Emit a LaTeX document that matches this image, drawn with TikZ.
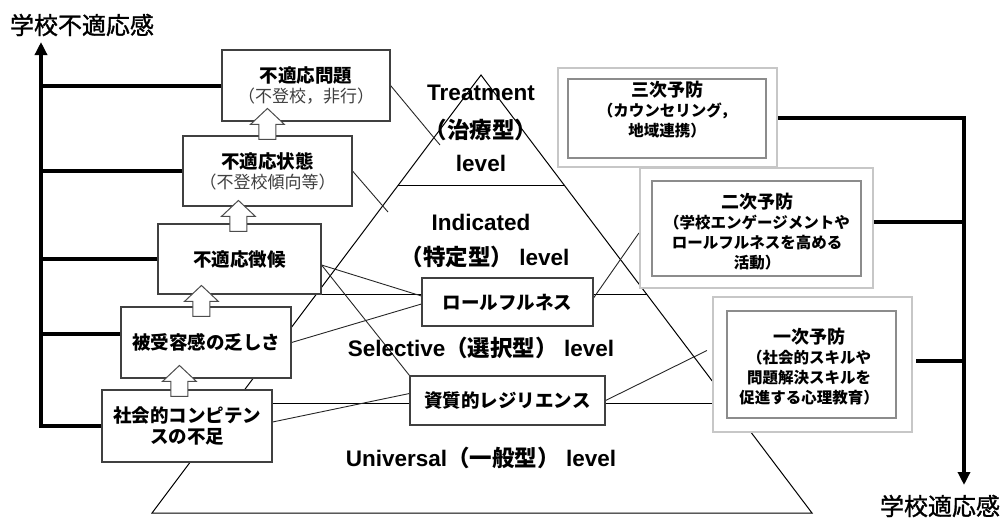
\documentclass[tikz,border=0pt]{standalone}
\usepackage{fontspec}
\setmainfont{Liberation Sans}
\newfontfamily\jp{Noto Sans CJK JP}
\newfontfamily\jpmed[FakeBold=1.2]{Noto Sans CJK JP}
\usetikzlibrary{calc,arrows.meta}
\pgfdeclarelayer{bg}
\pgfsetlayers{bg,main}
\begin{document}
\begin{tikzpicture}[x=1pt,y=-1pt,
  lbox/.style={draw=black!75, line width=1.1pt, fill=white, align=center, inner sep=0pt,
    font=\jp\bfseries\fontsize{18.5}{21}\selectfont},
  rbox/.style={draw=black!22, line width=2.2pt, fill=white, inner sep=0pt},
  rinner/.style={draw=black!45, line width=1.4pt},
  rtext/.style={align=center, inner sep=0pt, font=\jp\bfseries\fontsize{15.5}{20}\selectfont},
  conn/.style={line width=0.9pt, black!85},
  axis/.style={line width=4pt, line join=miter},
  lvl/.style={inner sep=0pt, font=\bfseries\fontsize{22.5}{26}\selectfont},
  axlabel/.style={inner sep=0pt, font=\jpmed\fontsize{24}{24}\selectfont},
  uparr/.pic={\draw[black!70, line width=1pt, fill=white]
     (-8.5,0) -- (-8.5,-15) -- (-17,-15) -- (0,-31) -- (17,-15) -- (8.5,-15) -- (8.5,0) -- cycle;}
]
\useasboundingbox (0,0) rectangle (1002,522);

% ---------- left boxes ----------
\node[lbox, minimum width=168, minimum height=71] (prob) at (306,85.5)
  {不適応問題\\[-1pt]{\mdseries\color{black!75}\fontsize{17}{20}\selectfont（不登校，非行）}};
\node[lbox, minimum width=169, minimum height=70] (state) at (267.5,171)
  {不適応状態\\[-1pt]{\mdseries\color{black!75}\fontsize{17}{20}\selectfont（不登校傾向等）}};
\node[lbox, minimum width=163, minimum height=70] (sign) at (239.5,259) {不適応徴候};
\node[lbox, minimum width=170, minimum height=71] (accept) at (206,342.5) {被受容感の乏しさ};
\node[lbox, minimum width=170, minimum height=72] (comp) at (187,426) {社会的コンピテン\\スの不足};

% ---------- pyramid boxes ----------
\node[lbox, minimum width=171, minimum height=48] (role) at (507.5,302) {ロールフルネス};
\node[lbox, minimum width=195, minimum height=49] (resil) at (507.5,400.5) {資質的レジリエンス};

% ---------- right boxes ----------
\node[rbox, minimum width=219, minimum height=99] (tert) at (667.5,117.5) {};
\draw[rinner] ($(tert.north west)+(11,12)$) rectangle ($(tert.south east)+(-12,-10)$);
\node[rtext] (tertT) at (667,110)
  {{\fontsize{18}{20}\selectfont 三次予防}\\（カウンセリング，\\地域連携）};

\node[rbox, minimum width=233, minimum height=120] (sec) at (756.5,228) {};
\draw[rinner] ($(sec.north west)+(13,14)$) rectangle ($(sec.south east)+(-13,-13)$);
\node[rtext] (secT) at (757,232)
  {{\fontsize{18}{20}\selectfont 二次予防}\\（学校エンゲージメントや\\ロールフルネスを高める\\活動）};

\node[rbox, minimum width=199, minimum height=135] (pri) at (812.5,364.5) {};
\draw[rinner] ($(pri.north west)+(15,15)$) rectangle ($(pri.south east)+(-17,-15)$);
\node[rtext] (priT) at (809,367)
  {{\fontsize{18}{20}\selectfont 一次予防}\\（社会的スキルや\\問題解決スキルを\\促進する心理教育）};

% ---------- level texts ----------
\node[lvl] (treat) at (481,93) {Treatment};
\node[lvl] (treat2) at (481,130) {\jp（治療型）};
\node[lvl] (treat3) at (481,163) {level};
\node[lvl] (ind) at (481,222) {Indicated};
\node[lvl] (ind2) at (485,257) {{\jp（特定型）} level};
\node[lvl] (sel) at (481,348) {Selective{\jp（選択型）} level};
\node[lvl] (uni) at (481,458) {Universal{\jp（一般型）} level};

% ---------- axis labels ----------
\node[axlabel] (lblL) at (82,25) {学校不適応感};
\node[axlabel] (lblR) at (940,506) {学校適応感};

% ---------- block arrows ----------
\pic at ($(comp.north west)+(78,7)$) {uparr};
\pic at ($(accept.north west)+(81,10)$) {uparr};
\pic at ($(sign.north west)+(81,8)$) {uparr};
\pic at ($(state.north west)+(85,4)$) {uparr};

% ---------- axes ----------
\coordinate (axLtop) at (41,42);
\coordinate (axRbot) at (964,485);
\coordinate (acc) at ($(accept.west)+(0,-9)$);
\coordinate (secR) at ($(sec.east)+(0,-6)$);
\coordinate (priR) at ($(pri.east)+(3,-4)$);
\draw[axis, -{Triangle[length=13pt,width=12pt]}] (comp.west) -| (axLtop);
\draw[axis] (prob.west) -- (prob.west -| axLtop);
\draw[axis] (state.west) -- (state.west -| axLtop);
\draw[axis] (sign.west) -- (sign.west -| axLtop);
\draw[axis] (acc) -- (acc -| axLtop);
\draw[axis, -{Triangle[length=13pt,width=12pt]}] (tert.east) -| (axRbot);
\draw[axis] (secR) -- (secR -| axRbot);
\draw[axis] (priR) -- (priR -| axRbot);

% ---------- pyramid and connectors (behind) ----------
\begin{pgfonlayer}{bg}
\coordinate (apex) at (481,75);
\coordinate (bl) at (152,513);
\coordinate (br) at (812,513);
\draw[line width=1pt, line join=miter] (apex) -- (bl) -- (br) -- cycle;
\draw[line width=1pt] ($(apex)!0.2534!(bl)$) coordinate (l1) -- ($(apex)!0.2534!(br)$) coordinate (r1);
\draw[line width=1pt] ($(apex)!0.5!(bl)$) coordinate (l2) -- ($(apex)!0.5!(br)$) coordinate (r2);
\draw[line width=1pt] ($(apex)!0.7511!(bl)$) coordinate (l3) -- ($(apex)!0.7511!(br)$) coordinate (r3);
\coordinate (t1) at (440,145);
\coordinate (t2) at (388,212);
\draw[conn] (prob.east) -- (t1);
\draw[conn] (state.east) -- (t2);
\draw[conn] ($(sign.east)+(0,6)$) -- ($(role.west)+(0,-6)$);
\draw[conn] ($(sign.east)+(0,6)$) -- (resil.north west);
\draw[conn] (accept.east) -- ($(role.west)+(0,2)$);
\draw[conn] ($(comp.east)+(0,-4)$) -- ($(resil.west)+(0,-7)$);
\draw[conn] ($(sec.west)+(0,5)$) -- ($(role.east)+(0,-4)$);
\draw[conn] ($(pri.west)+(-5,-14)$) -- (resil.east);
\end{pgfonlayer}
\end{tikzpicture}
\end{document}
